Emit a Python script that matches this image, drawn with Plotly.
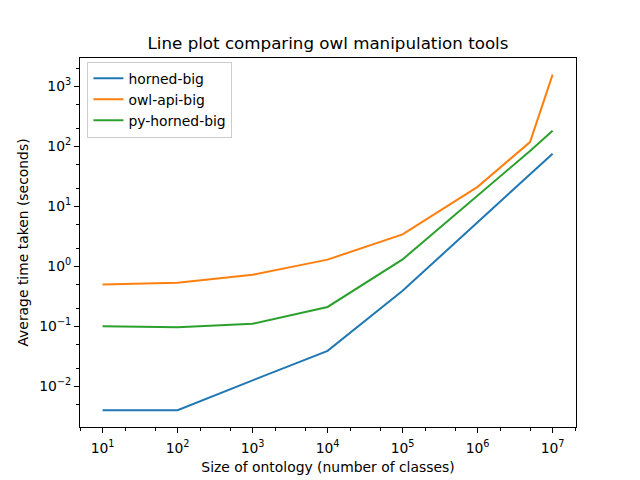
import plotly.graph_objects as go

# ontology sizes (number of classes)
sizes = [10, 100, 1000, 10000, 100000, 1000000, 5000000, 10000000]

# average time taken in seconds
horned_big = [0.004, 0.004, 0.0126, 0.039, 0.39, 5.4, 34, 75]
owl_api_big = [0.495, 0.53, 0.72, 1.29, 3.4, 21, 117, 1550]
py_horned_big = [0.10, 0.096, 0.11, 0.21, 1.3, 14.7, 83, 180]

series_names = ["horned-big", "owl-api-big", "py-horned-big"]
series_colors = ["#1f77b4", "#ff7f0e", "#2ca02c"]

x_tickvals = [10, 100, 1000, 10000, 100000, 1000000, 10000000]
x_ticktext = ["10<sup>1</sup>", "10<sup>2</sup>", "10<sup>3</sup>", "10<sup>4</sup>",
              "10<sup>5</sup>", "10<sup>6</sup>", "10<sup>7</sup>"]
y_tickvals = [0.01, 0.1, 1, 10, 100, 1000]
y_ticktext = ["10<sup>\u22122</sup>", "10<sup>\u22121</sup>", "10<sup>0</sup>",
              "10<sup>1</sup>", "10<sup>2</sup>", "10<sup>3</sup>"]

fig = go.Figure()
for name, vals, col in zip(series_names, [horned_big, owl_api_big, py_horned_big], series_colors):
    fig.add_trace(go.Scatter(x=sizes, y=vals, name=name, mode="lines",
                             line=dict(color=col, width=2)))

axis_style = dict(
    type="log", showgrid=False, zeroline=False, automargin=False,
    showline=True, mirror=True, linecolor="black", linewidth=1,
    ticks="outside", ticklen=5, tickwidth=1, tickcolor="black",
    tickfont=dict(size=13.9, color="black"),
    minor=dict(ticks="outside", ticklen=3, tickwidth=0.8, tickcolor="black", showgrid=False),
)

fig.update_xaxes(axis_style, range=[0.699, 7.312], tickvals=x_tickvals, ticktext=x_ticktext,
                 ticklabelstandoff=3,
                 title=dict(text="Size of ontology (number of classes)", font=dict(size=13.9, color="black"),
                            standoff=7))
fig.update_yaxes(axis_style, range=[-2.677, 3.468], tickvals=y_tickvals, ticktext=y_ticktext,
                 title=dict(text="Average time taken (seconds)", font=dict(size=13.9, color="black"),
                            standoff=7))

# page body has an 8px margin, so margins are shifted to compensate
fig.update_layout(
    width=640, height=480,
    margin=dict(l=72, r=72, t=50, b=61),
    paper_bgcolor="white", plot_bgcolor="white",
    font=dict(family="DejaVu Sans", color="black"),
    title=dict(text="Line plot comparing owl manipulation tools", x=0.5, xanchor="center",
               y=0.927, yanchor="middle", font=dict(size=16.7, color="black")),
    legend=dict(x=0.015, y=0.99, xanchor="left", yanchor="top", itemwidth=30,
                bgcolor="rgba(255,255,255,0.8)", bordercolor="#cccccc", borderwidth=1,
                font=dict(size=13.9, color="black")),
)

fig.write_html("out.html")
